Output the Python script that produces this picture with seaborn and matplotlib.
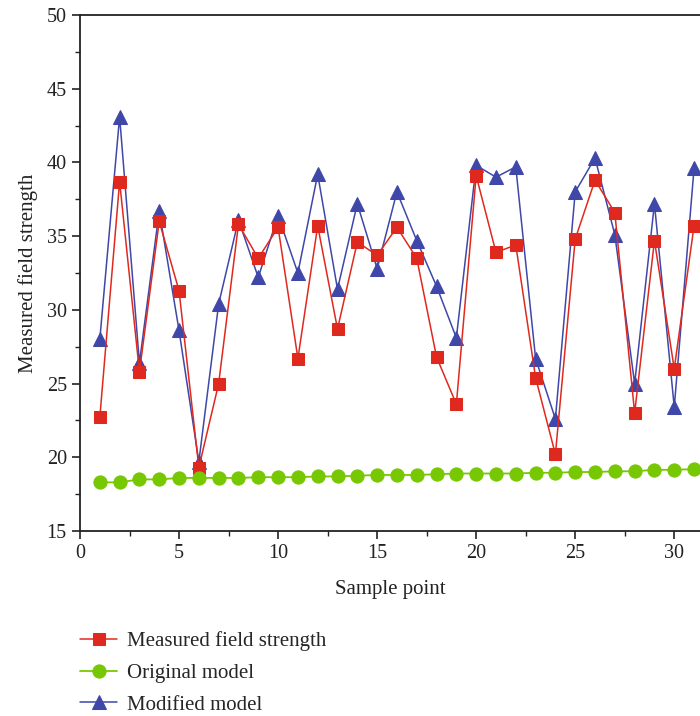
import numpy as np
import pandas as pd
import matplotlib
matplotlib.use("Agg")
import matplotlib.pyplot as plt
import seaborn as sns

sample_points = list(range(1, 32))
measured = [22.7, 38.7, 25.8, 36.0, 31.3, 19.3, 25.0, 35.8, 33.5, 35.6, 26.7, 35.7, 28.7, 34.6, 33.7,
            35.6, 33.5, 26.8, 23.6, 39.1, 33.9, 34.4, 25.4, 20.2, 34.8, 38.8, 36.6, 23.0, 34.7, 26.0, 35.7]
original = [18.3, 18.3, 18.5, 18.5, 18.6, 18.6, 18.6, 18.6, 18.65, 18.65, 18.65, 18.7, 18.7, 18.75, 18.8,
            18.8, 18.8, 18.85, 18.9, 18.9, 18.9, 18.9, 18.95, 18.95, 19.0, 19.0, 19.05, 19.05, 19.15, 19.15, 19.2]
modified = [28.0, 43.1, 26.4, 36.7, 28.6, 19.7, 30.4, 36.1, 32.2, 36.4, 32.5, 39.2, 31.4, 37.2, 32.8,
            38.0, 34.7, 31.6, 28.1, 39.8, 39.0, 39.7, 26.7, 22.6, 38.0, 40.3, 35.1, 25.0, 37.2, 23.4, 39.6]
labels = ["Measured field strength", "Original model", "Modified model"]

sns.set_style("ticks")
plt.rcParams['font.family'] = ['Liberation Serif', 'DejaVu Serif']

fig = plt.figure(figsize=(7.0, 7.16), dpi=100)
ax = fig.add_axes([80/700, 1-531/716, 1-80/700, (531-15)/716])

red = "#E0291E"
green = "#77C802"
blue = "#3F47A8"

sns.lineplot(x=sample_points, y=modified, ax=ax, color=blue, marker="^", markersize=10.5,
             markeredgecolor=blue, linewidth=1.1, label=labels[2], zorder=2)
sns.lineplot(x=sample_points, y=measured, ax=ax, color=red, marker="s", markersize=8.8,
             markeredgecolor=red, linewidth=1.1, label=labels[0], zorder=3)
sns.lineplot(x=sample_points, y=original, ax=ax, color=green, marker="o", markersize=9.5,
             markeredgecolor=green, linewidth=1.3, label=labels[1], zorder=4)

ax.set_xlim(0, 31.3)
ax.set_ylim(15, 50)
ax.set_xticks([0, 5, 10, 15, 20, 25, 30])
ax.set_yticks([15, 20, 25, 30, 35, 40, 45, 50])
ax.set_xticks(np.arange(2.5, 31, 5), minor=True)
ax.set_yticks(np.arange(17.5, 50, 5), minor=True)
ax.tick_params(axis='both', which='major', direction='out', length=6, width=1.2, labelsize=14.5, color='#222222')
ax.tick_params(axis='both', which='minor', direction='out', length=3.5, width=1.0, color='#222222')
for s in ['left', 'bottom', 'top']:
    ax.spines[s].set_visible(True)
    ax.spines[s].set_linewidth(1.3)
    ax.spines[s].set_color('#222222')
ax.spines['right'].set_visible(False)

ax.set_xlabel("Sample point", fontsize=15, color='#222222', labelpad=12)
ax.set_ylabel("Measured field strength", fontsize=15, color='#222222', labelpad=6)
for t in ax.get_xticklabels() + ax.get_yticklabels():
    t.set_color('#222222')

handles, lbls = ax.get_legend_handles_labels()
order = [lbls.index(l) for l in labels]
ax.get_legend().remove()
fig.legend([handles[i] for i in order], [lbls[i] for i in order], loc='upper left',
           bbox_to_anchor=(72/700, 1-623/716), frameon=False, fontsize=15,
           handlelength=1.75, handletextpad=0.5, labelspacing=0.58, borderaxespad=0)

fig.savefig("out.png", dpi=100)
